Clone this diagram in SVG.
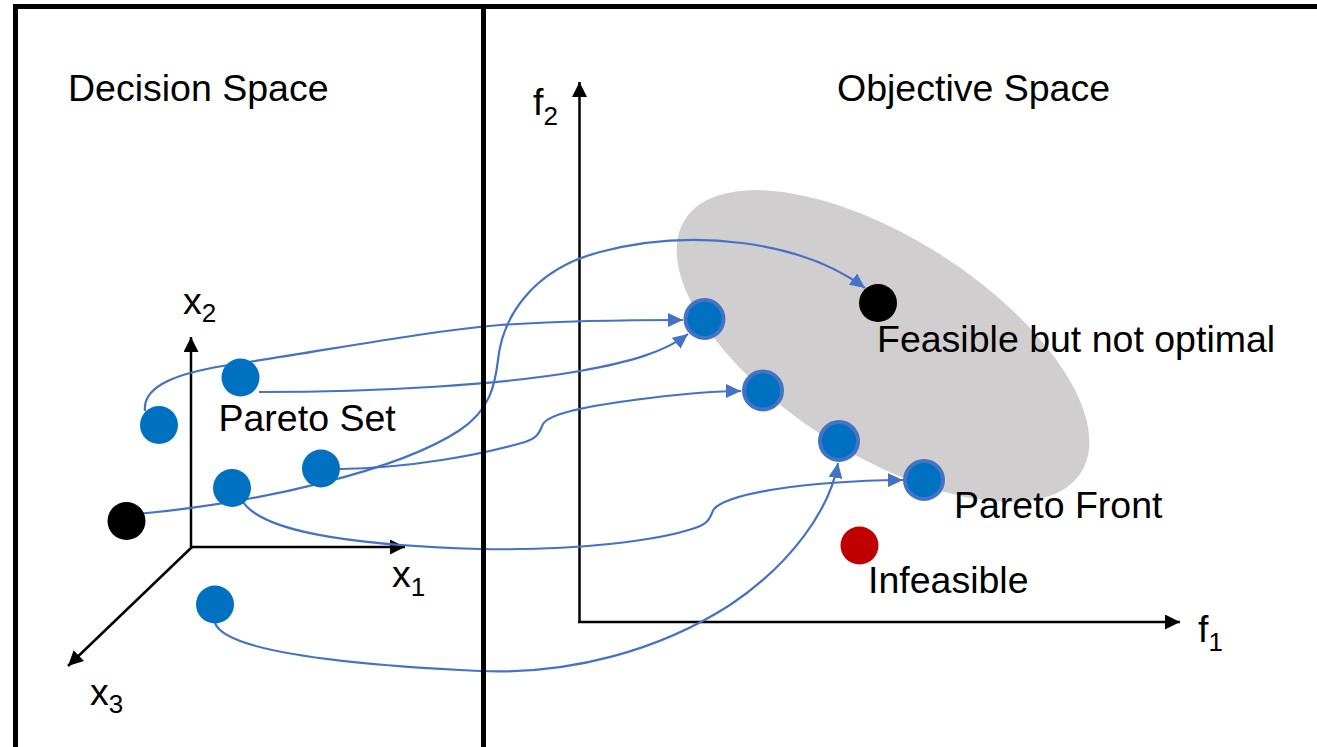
<svg xmlns="http://www.w3.org/2000/svg" width="1317" height="747" viewBox="0 0 1317 747">
<style>
.lbl{font-family:"Liberation Sans",Arial,sans-serif;font-size:37.5px;fill:#000}
.sub{font-size:26px}
.conn{fill:none;stroke:#4472C4;stroke-width:2.2;marker-end:url(#blueArrow)}
.axis{fill:none;stroke:#000;stroke-width:2.5;marker-end:url(#blackArrow)}
.frame{stroke:#000;stroke-width:5;fill:none}
.ps{fill:#0070C0}
.pf{fill:#0070C0;stroke:#4472C4;stroke-width:4}
</style>
<defs>
<marker id="blueArrow" markerUnits="userSpaceOnUse" viewBox="0 0 15 14" refX="15" refY="7" markerWidth="15" markerHeight="14" orient="auto">
<path d="M0,0 L15,7 L0,14 Z" fill="#4472C4"/>
</marker>
<marker id="blackArrow" markerUnits="userSpaceOnUse" viewBox="0 0 15 15" refX="15" refY="7.5" markerWidth="15" markerHeight="15" orient="auto">
<path d="M0,0 L15,7.5 L0,15 Z" fill="#000"/>
</marker>
</defs>
<rect width="1317" height="747" fill="#fff"/>

<g id="feasible-region">
<ellipse cx="883" cy="346" rx="235" ry="108" transform="rotate(32.6 883 346)" fill="#D0CECE"/>
</g>

<g id="axes">
<line class="axis" x1="191" y1="547" x2="191" y2="337"/>
<line class="axis" x1="190" y1="547" x2="405" y2="547"/>
<line class="axis" x1="192" y1="547" x2="68" y2="666"/>
<line class="axis" x1="579.5" y1="623" x2="579.5" y2="82"/>
<line class="axis" x1="578" y1="622" x2="1180" y2="622"/>
</g>

<g id="connectors">
<path class="conn" d="M145,411 C142,385 180,372 235,364 C330,350 420,332 500,325 C560,321 620,320 683,320"/>
<path class="conn" d="M259,392 C380,392 500,385 580,371 C630,362 665,352 688,334"/>
<path class="conn" d="M340,469 C410,468 480,455 525,442 C540,437 540,430 543,424 C550,412 600,404 650,398 C690,393 720,391 741,391"/>
<path class="conn" d="M243,502 C262,530 340,545 480,549 C580,551 660,540 695,528 C712,522 710,515 714,509 C728,494 800,481 903,480"/>
<path class="conn" d="M215,623 C225,650 330,664 480,671 C570,675 660,650 730,605 C790,565 830,510 838,463"/>
<path class="conn" d="M137,514 C260,503 400,470 460,430 C490,410 495,385 498,360 C502,320 530,270 600,252 C690,228 800,240 865,288"/>
</g>

<g id="frame">
<line class="frame" x1="13" y1="6.5" x2="1317" y2="6.5"/>
<line class="frame" x1="15.5" y1="4" x2="15.5" y2="747"/>
<line class="frame" x1="483.5" y1="4" x2="483.5" y2="747"/>
</g>

<g id="ps-a"><circle class="ps" cx="240.5" cy="377.5" r="19"/></g>
<g id="ps-b"><circle class="ps" cx="159" cy="425" r="19"/></g>
<g id="ps-c"><circle class="ps" cx="321" cy="468.5" r="19"/></g>
<g id="ps-d"><circle class="ps" cx="232" cy="488" r="19"/></g>
<g id="ps-e"><circle fill="#000" cx="126.5" cy="521" r="19"/></g>
<g id="ps-f"><circle class="ps" cx="215" cy="604.5" r="19"/></g>

<g id="pf-1"><circle class="pf" cx="704.5" cy="319" r="19"/></g>
<g id="pf-2"><circle class="pf" cx="763" cy="390.5" r="19"/></g>
<g id="pf-3"><circle class="pf" cx="839" cy="441" r="19"/></g>
<g id="pf-4"><circle class="pf" cx="924" cy="480" r="19"/></g>
<g id="feasible-point"><circle fill="#000" cx="878" cy="303" r="19"/></g>
<g id="infeasible-point"><circle fill="#C00000" cx="859.5" cy="545.5" r="19"/></g>

<g id="labels">
<text class="lbl" x="68" y="101">Decision Space</text>
<text class="lbl" x="837" y="101">Objective Space</text>
<text class="lbl" x="218.5" y="431">Pareto Set</text>
<text class="lbl" x="877" y="352">Feasible but not optimal</text>
<text class="lbl" x="954" y="518">Pareto Front</text>
<text class="lbl" x="868" y="593">Infeasible</text>
<text class="lbl" x="183" y="314">x<tspan class="sub" dy="8">2</tspan></text>
<text class="lbl" x="392" y="587">x<tspan class="sub" dy="9">1</tspan></text>
<text class="lbl" x="90" y="705">x<tspan class="sub" dy="8">3</tspan></text>
<text class="lbl" x="1198" y="642">f<tspan class="sub" dy="9">1</tspan></text>
<text class="lbl" x="533" y="115">f<tspan class="sub" dy="10">2</tspan></text>
</g>
</svg>
